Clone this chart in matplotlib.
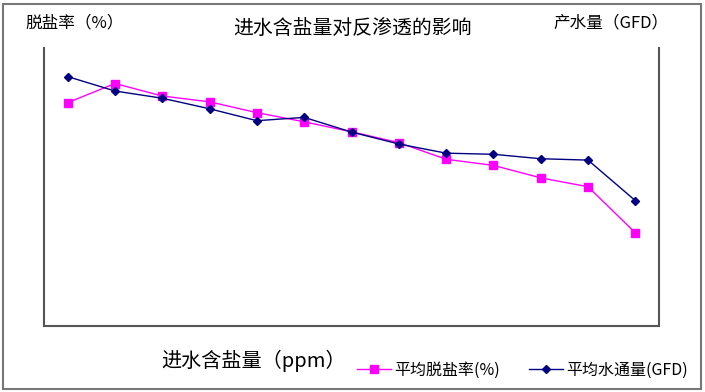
import matplotlib
matplotlib.use('Agg')
import numpy as np
from matplotlib import pyplot as plt
from matplotlib.patches import Rectangle

plt.rcParams['font.family'] = ['Noto Sans CJK SC', 'DejaVu Sans']

# 13 feed salinity steps (no tick labels shown on the chart)
steps = np.arange(13)
rejection = [80.3, 87.2, 82.7, 80.6, 76.7, 73.4, 69.8, 65.9, 59.9, 57.7, 53.2, 50.0, 33.4]
flux = [89.7, 84.5, 81.9, 78.1, 73.8, 75.0, 69.7, 65.4, 62.1, 61.7, 60.1, 59.6, 45.0]

W, H = 705, 392
fig = plt.figure(figsize=(W / 100, H / 100), dpi=100)
ax = fig.add_axes([44 / W, 1 - 325.5 / H, (659 - 44) / W, (325.5 - 48) / H])

ax.plot(steps, rejection, '-s', color='#ff00ff', lw=1, ms=5.5, mec='#ff00ff',
        label='平均脱盐率(%)')
ax.plot(steps, flux, '-D', color='#000080', lw=1, ms=4.5, mec='#000080',
        label='平均水通量(GFD)')

ax.set_xlim(-0.5, 12.5)
ax.set_ylim(0, 100)
ax.set_xticks([])
ax.set_yticks([])
ax.spines['top'].set_visible(False)
for s in ['left', 'right', 'bottom']:
    ax.spines[s].set_color('#555555')
    ax.spines[s].set_linewidth(1.5)

# texts around the plot box
fig.text(25 / W, 1 - 23 / H, '脱盐率（%）', fontsize=12, ha='left', va='center')
fig.text(669 / W, 1 - 23 / H, '产水量（GFD）', fontsize=12, ha='right', va='center')
fig.text(352 / W, 1 - 28 / H, '进水含盐量对反渗透的影响', fontsize=14.3, ha='center', va='center')
fig.text(161 / W, 1 - 361 / H, '进水含盐量（ppm）', fontsize=14.5, ha='left', va='center')

ax.legend(loc='center left', bbox_to_anchor=(357 / W, 1 - 370 / H), bbox_transform=fig.transFigure,
          ncol=2, frameon=False, fontsize=11.5, handlelength=2.1, handletextpad=0.25,
          columnspacing=1.8, borderpad=0, borderaxespad=0)

# outer frame
fig.patches.append(Rectangle((3 / W, 1 - 389 / H), (701 - 3) / W, (389 - 4) / H,
                             transform=fig.transFigure, fill=False, ec='#777777', lw=1.5))

fig.savefig('out.png', dpi=100)
